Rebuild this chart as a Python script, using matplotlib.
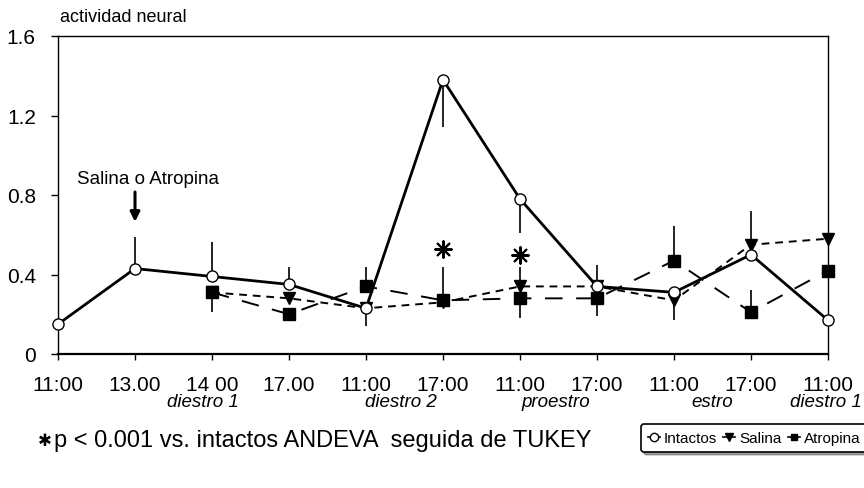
import numpy as np
import matplotlib
matplotlib.use("Agg")
import matplotlib.pyplot as plt
from matplotlib.lines import Line2D

plt.rcParams['font.family'] = ['Liberation Sans', 'DejaVu Sans']

# ---- data ----
tick_labels = ["11:00", "13.00", "14 00", "17.00", "11:00", "17:00",
               "11:00", "17:00", "11:00", "17:00", "11:00"]
phase_labels = ["diestro 1", "diestro 2", "proestro", "estro", "diestro 1"]
phase_pos = [1.88, 4.45, 6.47, 8.5, 9.97]

intactos = [0.15, 0.43, 0.39, 0.35, 0.23, 1.38, 0.78, 0.34, 0.31, 0.50, 0.17]
intactos_up = [0, 0.16, 0.175, 0.09, 0, 0, 0, 0.11, 0, 0, 0]
intactos_dn = [0, 0, 0, 0, 0, 0.24, 0.17, 0, 0, 0, 0]

salina = [np.nan, np.nan, 0.31, 0.28, 0.23, 0.26, 0.34, 0.34, 0.27, 0.55, 0.58]
salina_up = [0, 0, 0, 0, 0, 0, 0.10, 0, 0, 0.17, 0]
salina_dn = [0, 0, 0, 0, 0.09, 0, 0, 0, 0.10, 0, 0]

atropina = [np.nan, np.nan, 0.31, 0.20, 0.34, 0.27, 0.28, 0.28, 0.47, 0.21, 0.42]
atropina_up = [0, 0, 0, 0, 0.10, 0.17, 0, 0, 0.175, 0.11, 0]
atropina_dn = [0, 0, 0.10, 0.03, 0, 0, 0.10, 0.09, 0, 0, 0]

signif_x = [5, 6]
signif_y = [0.53, 0.50]

x = np.arange(len(tick_labels))

fig = plt.figure(figsize=(8.64, 4.89), dpi=100)
ax = fig.add_axes([58/864, 1-355/489, (828-58)/864, (355-37)/489])

def errs(vals, up, dn):
    v = np.array(vals, float)
    u = np.array(up, float)
    d = np.array(dn, float)
    m = u > 0
    ax.vlines(x[m], v[m], v[m] + u[m], colors='black', lw=1.2, zorder=2)
    m = d > 0
    ax.vlines(x[m], v[m] - d[m], v[m], colors='black', lw=1.2, zorder=2)

errs(intactos, intactos_up, intactos_dn)
errs(salina, salina_up, salina_dn)
errs(atropina, atropina_up, atropina_dn)

ax.plot(x, atropina, color='black', lw=1.4, ls=(0, (9, 7)), marker='s', ms=9,
        mfc='black', mec='black', clip_on=False, zorder=3, label='Atropina')
ax.plot(x, salina, color='black', lw=1.4, ls=(0, (4, 3)), marker='v', ms=9,
        mfc='black', mec='black', clip_on=False, zorder=4, label='Salina')
ax.plot(x, intactos, color='black', lw=2.0, ls='-', marker='o', ms=8,
        mfc='white', mec='black', mew=1.0, clip_on=False, zorder=5, label='Intactos')

ax.scatter(signif_x, signif_y, marker=(8, 2, 0), s=140, color='black', lw=1.5, zorder=6)

ax.set_xlim(0, 10)
ax.set_ylim(0, 1.6)
ax.set_yticks([0, 0.4, 0.8, 1.2, 1.6])
ax.set_yticklabels(["0", "0.4", "0.8", "1.2", "1.6"], fontsize=15)
ax.set_xticks(x)
ax.set_xticklabels(tick_labels, fontsize=15)
ax.tick_params(axis='y', length=5, width=1, pad=11)
ax.tick_params(axis='x', length=4, width=1, pad=11)
for s in ax.spines.values():
    s.set_linewidth(1.0)
ax.spines['bottom'].set_linewidth(1.6)

for lab, p in zip(phase_labels, phase_pos):
    ax.text(p, -0.24, lab, ha='center', va='center', style='italic', fontsize=13.5,
            transform=ax.transData, clip_on=False)

fig.text(60/864, 1-18/489, "actividad neural", ha='left', va='center', fontsize=13)

ax.text(1.17, 0.885, "Salina o Atropina", ha='center', va='center', fontsize=13.5)
ax.annotate("", xy=(1, 0.665), xytext=(1, 0.815),
            arrowprops=dict(arrowstyle='-|>', color='black', lw=2.2,
                            mutation_scale=14, shrinkA=0, shrinkB=0))

fig.text(38/864, 1-441/489, "\u2731", ha='left', va='center', fontsize=12,
         family=['DejaVu Sans'])
fig.text(54/864, 1-441/489, "p < 0.001 vs. intactos ANDEVA  seguida de TUKEY",
         ha='left', va='center', fontsize=17)

handles = [
    Line2D([], [], color='black', lw=1.2, marker='o', ms=6, mfc='white', mec='black'),
    Line2D([], [], color='black', lw=1.2, marker='v', ms=6, mfc='black', mec='black'),
    Line2D([], [], color='black', lw=1.2, marker='s', ms=5, mfc='black', mec='black'),
]
leg = fig.legend(handles, ["Intactos", "Salina", "Atropina"], ncol=3,
                 loc='center', bbox_to_anchor=(754/864, 1-439/489),
                 fontsize=11, handlelength=0.8, handletextpad=0.25,
                 columnspacing=0.4, borderpad=0.45, frameon=True,
                 fancybox=True, shadow=True, edgecolor='black')
leg.get_frame().set_linewidth(1.2)

fig.savefig("out.png", dpi=100)
